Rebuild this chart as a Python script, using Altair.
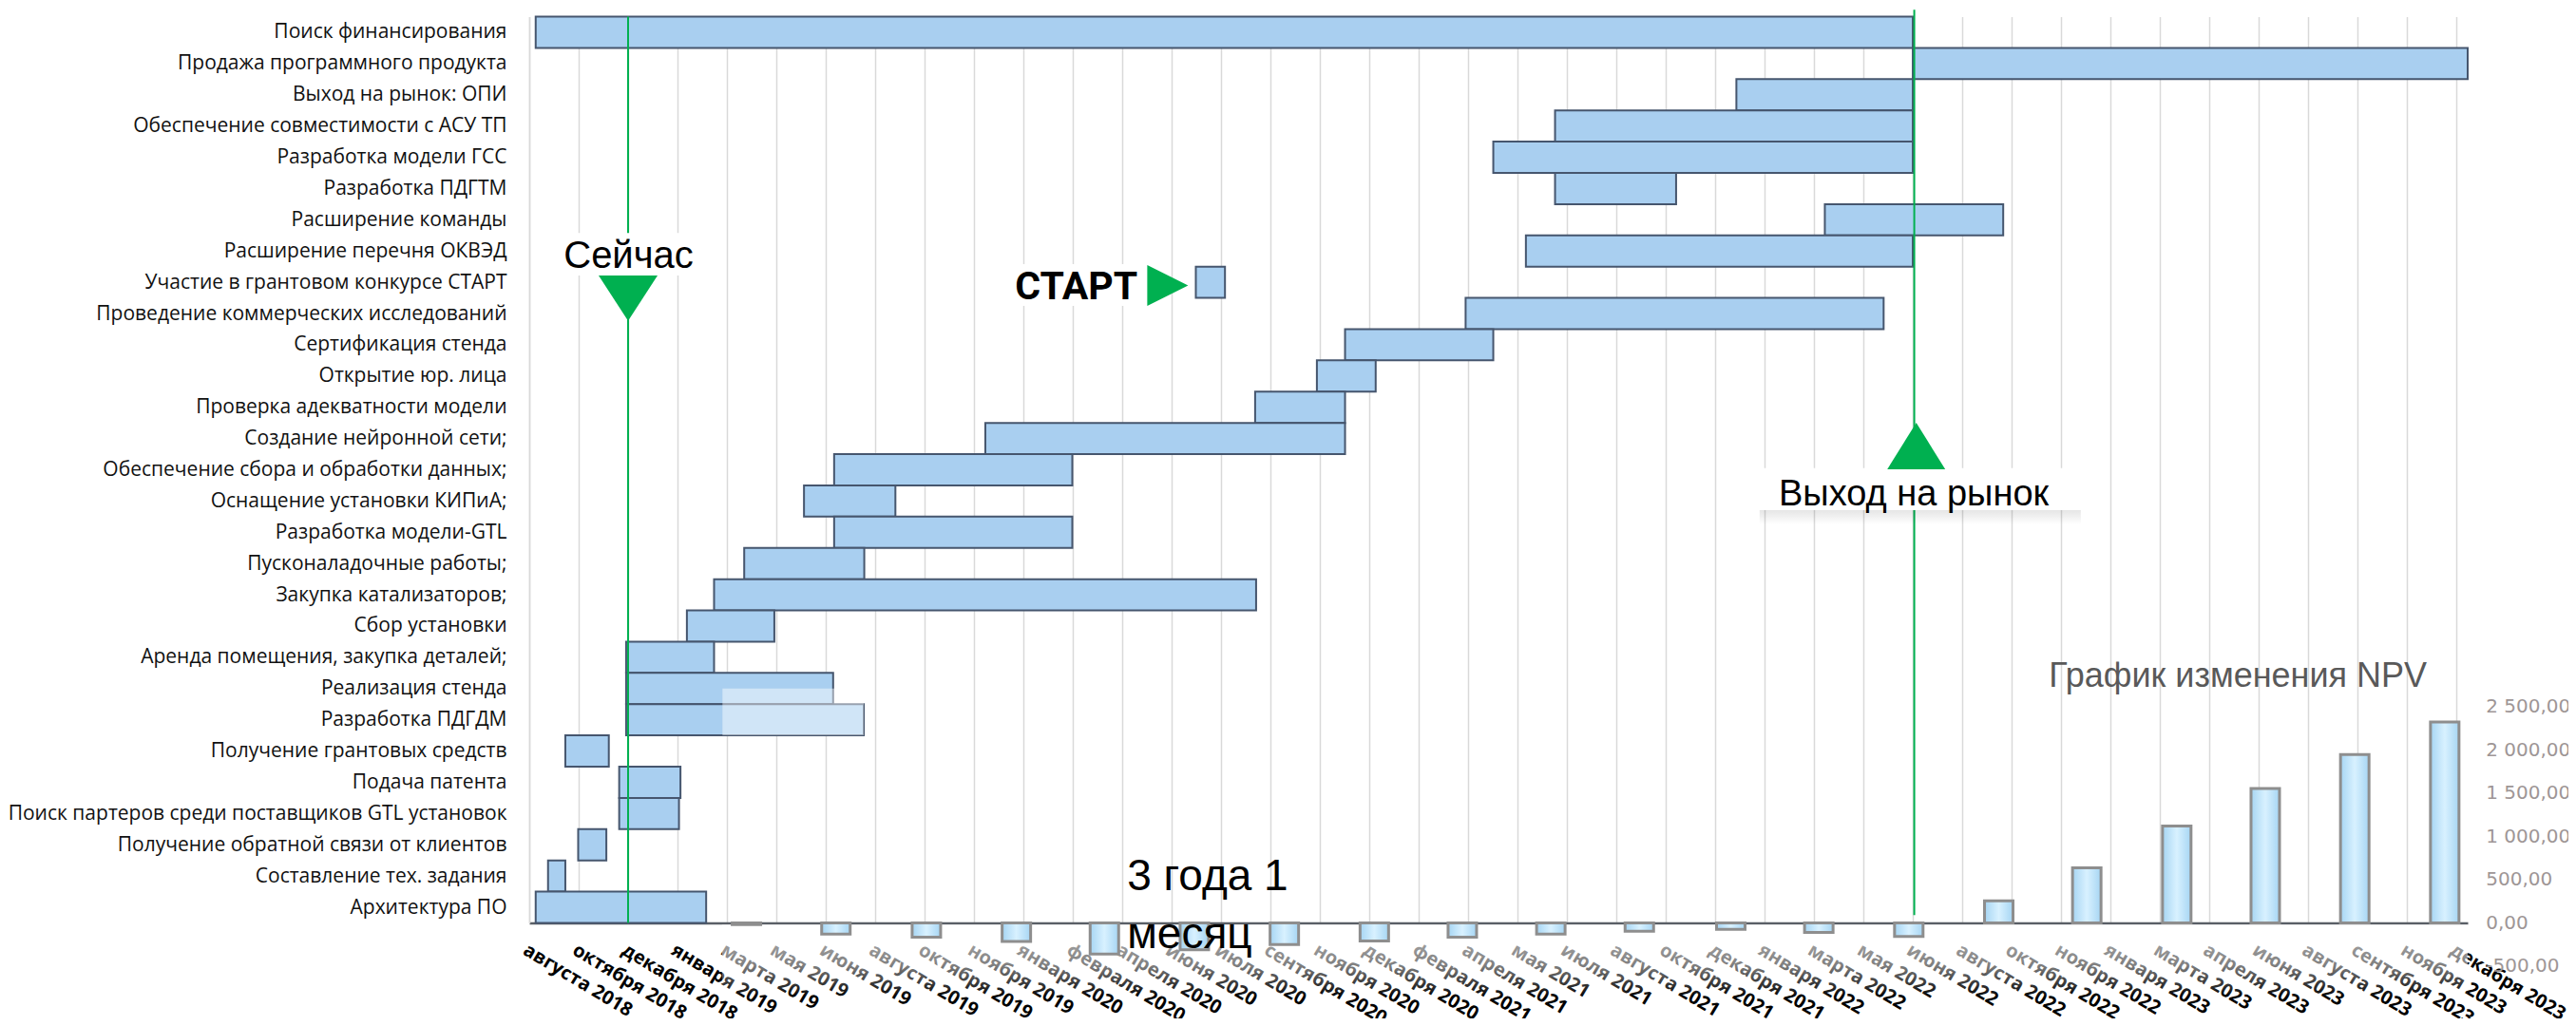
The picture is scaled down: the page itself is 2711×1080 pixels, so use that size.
import json
import altair as alt
import pandas as pd

# ---------------- data ----------------
tasks = [
    "Поиск финансирования ",
    "Продажа программного продукта",
    "Выход на рынок: ОПИ",
    "Обеспечение совместимости с АСУ ТП",
    "Разработка модели ГСС",
    "Разработка ПДГТМ",
    "Расширение команды",
    "Расширение перечня ОКВЭД",
    "Участие в грантовом конкурсе СТАРТ",
    "Проведение коммерческих исследований",
    "Сертификация стенда",
    "Открытие юр. лица",
    "Проверка адекватности модели",
    "Создание нейронной сети;",
    "Обеспечение сбора и обработки данных;",
    "Оснащение установки КИПиА;",
    "Разработка модели-GTL",
    "Пусконаладочные работы;",
    "Закупка катализаторов;",
    "Сбор установки",
    "Аренда помещения, закупка деталей;",
    "Реализация стенда ",
    "Разработка ПДГДМ",
    "Получение грантовых средств",
    "Подача патента",
    "Поиск партеров среди поставщиков GTL установок",
    "Получение обратной связи от клиентов",
    "Составление тех. задания",
    "Архитектура ПО",
]
# start / end in month-tick units of the time axis
starts = [0.13, 28.0, 24.43, 20.76, 19.51, 20.76, 26.22, 20.17, 13.49, 18.95,
          16.51, 15.94, 14.69, 9.23, 6.17, 5.56, 6.17, 4.35, 3.74, 3.19,
          1.96, 1.96, 1.96, 0.73, 1.82, 1.82, 0.99, 0.38, 0.13]
ends = [28.0, 39.23, 28.0, 28.0, 28.0, 23.21, 29.83, 28.0, 14.08, 27.41,
        19.51, 17.13, 16.51, 16.51, 10.99, 7.41, 10.99, 6.78, 14.71, 4.96,
        3.74, 6.15, 6.77, 1.61, 3.06, 3.03, 1.56, 0.73, 3.58]

months = [
    "августа 2018", "октября 2018", "декабря 2018", "января 2019", "марта 2019",
    "мая 2019", "июня 2019", "августа 2019", "октября 2019", "ноября 2019",
    "января 2020", "февраля 2020", "апреля 2020", "июня 2020", "июля 2020",
    "сентября 2020", "ноября 2020", "декабря 2020", "февраля 2021", "апреля 2021",
    "мая 2021", "июля 2021", "августа 2021", "октября 2021", "декабря 2021",
    "января 2022", "марта 2022", "мая 2022", "июня 2022", "августа 2022",
    "октября 2022", "ноября 2022", "января 2023", "марта 2023", "апреля 2023",
    "июня 2023", "августа 2023", "сентября 2023", "ноября 2023", "декабря 2023",
]

npv_pos = [4.32, 6.14, 7.98, 9.81, 11.60, 13.43, 15.26, 17.09, 18.88, 20.68,
           22.48, 24.34, 26.13, 27.96, 29.79, 31.58, 33.41, 35.21, 37.03, 38.86]
npv_val = [-20, -128, -165, -215, -360, -312, -250, -210, -165, -128,
           -95, -73, -110, -158, 255, 638, 1124, 1558, 1952, 2328]
npv_ticks = [2500, 2000, 1500, 1000, 500, 0, -500]
npv_tick_labels = ["2 500,00", "2 000,00", "1 500,00", "1 000,00", "500,00", "0,00", "-500,00"]

npv_title = "График изменения NPV"
now_label = "Сейчас"
start_label = "СТАРТ"
market_label = "Выход на рынок"
duration_lines = ["3 года 1", "месяц"]

# ---------------- tables ----------------
gantt = pd.DataFrame({"row": list(range(len(tasks))), "task": tasks,
                      "start": starts, "end": ends})
gantt["y0"] = gantt["row"] - 0.5
gantt["y1"] = gantt["row"] + 0.5

npv = pd.DataFrame({"pos": npv_pos, "val": npv_val})
npv_axis = pd.DataFrame({"val": npv_ticks, "lab": npv_tick_labels})

GREEN = "#00b050"
XD = [0, 39.23]
YD = [-0.5, 28.5]
xs = alt.Scale(domain=XD, nice=False, zero=False)
ys = alt.Scale(domain=YD, nice=False, zero=False, reverse=True)
ns = alt.Scale(domain=[0, 10500], nice=False, zero=False)

task_expr = json.dumps(tasks, ensure_ascii=False) + "[datum.value]"
month_expr = json.dumps(months, ensure_ascii=False) + "[datum.value]"

bars = alt.Chart(gantt).mark_rect(fill="#a9cff0", stroke="#46566e", strokeWidth=2).encode(
    x=alt.X("start:Q", scale=xs, title=None,
            axis=alt.Axis(values=list(range(len(months))), labelExpr=month_expr,
                          grid=True, gridColor="#d9d9d9", gridWidth=1.5,
                          ticks=False, domainColor="#5a5f66", domainWidth=2.5,
                          labelFont="Open Sans", labelFontWeight="bold",
                          labelFontSize=20, labelColor="#000000",
                          labelAngle=31, labelAlign="left", labelBaseline="top",
                          labelPadding=18, labelOverlap=False, labelLimit=400,
                          labelFlush=False, labelBound=False)),
    x2="end:Q",
    y=alt.Y("y0:Q", scale=ys, title=None,
            axis=alt.Axis(values=list(range(len(tasks))), labelExpr=task_expr,
                          grid=False, ticks=False, domainColor="#d9d9d9",
                          domainWidth=1.5, labelFont="Open Sans", labelFontSize=21,
                          labelColor="#111111", labelPadding=24, labelLimit=700,
                          labelOverlap=False, labelFlush=False, labelBound=False)),
    y2="y1:Q",
)

# light fade over part of the ПДГДМ bar
fade = pd.DataFrame({"x": [3.91], "x2": [6.77], "y": [21.0], "y2": [22.5]})
fade_l = alt.Chart(fade).mark_rect(fill="white", opacity=0.45).encode(
    x=alt.X("x:Q", scale=xs, axis=None), x2="x2:Q",
    y=alt.Y("y:Q", scale=ys, axis=None), y2="y2:Q")

# fade over the lower tick labels (NPV chart background)
lab_fade = pd.DataFrame({"x": [3.9], "x2": [39.23], "y": [28.56], "y2": [30.9]})
lab_fade_l = alt.Chart(lab_fade).mark_rect(
    fill=alt.LinearGradient(gradient="linear", x1=0, x2=0, y1=0, y2=1,
                            stops=[alt.GradientStop(color="rgba(255,255,255,0.72)", offset=0),
                                   alt.GradientStop(color="rgba(255,255,255,0.5)", offset=0.55),
                                   alt.GradientStop(color="rgba(255,255,255,0)", offset=1)])
).encode(x=alt.X("x:Q", scale=xs, axis=None), x2="x2:Q",
         y=alt.Y("y:Q", scale=ys, axis=None), y2="y2:Q")

# green milestone lines
lines = pd.DataFrame({"x": [2.0, 28.03], "y": [-0.5, -0.72], "y2": [28.5, 28.25]})
lines_l = alt.Chart(lines).mark_rule(color=GREEN, strokeWidth=2).encode(
    x=alt.X("x:Q", scale=xs, axis=None),
    y=alt.Y("y:Q", scale=ys, axis=None), y2="y2:Q")

# NPV bars
npv_l = alt.Chart(npv).mark_bar(
    size=30, stroke="#8e8e8e", strokeWidth=3,
    fill=alt.LinearGradient(gradient="linear", x1=0, x2=1, y1=0, y2=0,
                            stops=[alt.GradientStop(color="#a6d5f3", offset=0),
                                   alt.GradientStop(color="#d8f1ff", offset=0.5),
                                   alt.GradientStop(color="#a6d5f3", offset=1)])
).encode(x=alt.X("pos:Q", scale=xs, axis=None),
         y=alt.Y("val:Q", scale=ns, axis=None), y2=alt.datum(0))

npv_ax_l = alt.Chart(npv_axis).mark_text(
    align="left", baseline="middle", font="DejaVu Sans", fontSize=20, color="#9e9696"
).encode(x=alt.X(datum=39.6, scale=xs, axis=None),
         y=alt.Y("val:Q", scale=ns, axis=None), text="lab:N")

npv_title_l = alt.Chart(pd.DataFrame({"t": [npv_title]})).mark_text(
    align="center", baseline="alphabetic", font="Liberation Sans", fontSize=36, color="#595959"
).encode(x=alt.X(datum=34.58, scale=xs, axis=None),
         y=alt.Y(datum=20.94, scale=ys, axis=None), text="t:N")

# white label boxes
boxes = pd.DataFrame({"x": [0.79, 9.79, 24.9], "x2": [3.29, 12.37, 31.4],
                      "y": [6.42, 7.42, 13.95], "y2": [7.78, 8.755, 15.29]})
shadow = pd.DataFrame({"x": [24.9], "x2": [31.4], "y": [15.29], "y2": [15.75]})
shadow_l = alt.Chart(shadow).mark_rect(
    fill=alt.LinearGradient(gradient="linear", x1=0, x2=0, y1=0, y2=1,
                            stops=[alt.GradientStop(color="rgba(0,0,0,0.1)", offset=0),
                                   alt.GradientStop(color="rgba(0,0,0,0)", offset=1)])
).encode(x=alt.X("x:Q", scale=xs, axis=None), x2="x2:Q",
         y=alt.Y("y:Q", scale=ys, axis=None), y2="y2:Q")
boxes_l = alt.Chart(boxes).mark_rect(fill="white").encode(
    x=alt.X("x:Q", scale=xs, axis=None), x2="x2:Q",
    y=alt.Y("y:Q", scale=ys, axis=None), y2="y2:Q")

def label(text, x, y, align="center", weight="normal", size=38, font="Liberation Sans"):
    return alt.Chart(pd.DataFrame({"t": [text]})).mark_text(
        align=align, baseline="alphabetic", font=font, fontSize=size,
        fontWeight=weight, color="#000000"
    ).encode(x=alt.X(datum=x, scale=xs, axis=None),
             y=alt.Y(datum=y, scale=ys, axis=None), text="t:N")

now_t = label(now_label, 2.01, 7.54, size=40)
start_t = label(start_label, 12.31, 8.54, align="right", weight="bold", size=41,
                font="Roboto")
market_t = label(market_label, 28.02, 15.14, size=38)
dur1 = label(duration_lines[0], 12.1, 27.45, align="left", size=46)
dur2 = label(duration_lines[1], 12.1, 29.3, align="left", size=46)

def tri(path, x, y, size):
    return alt.Chart(pd.DataFrame({"a": [0]})).mark_point(
        shape=path, filled=True, fill=GREEN, opacity=1, size=size, strokeWidth=0
    ).encode(x=alt.X(datum=x, scale=xs, axis=None),
             y=alt.Y(datum=y, scale=ys, axis=None))

tri_down = tri("M-1,-0.77L1,-0.77L0,0.77Z", 2.0, 8.51, 3844)
tri_right = tri("M-1,-1L1,0L-1,1Z", 12.92, 8.1, 1849)
tri_up = tri("M0,-0.8L1,0.8L-1,0.8Z", 28.07, 13.24, 3721)

chart = alt.layer(
    bars, fade_l, lines_l, lab_fade_l, npv_l, npv_ax_l, npv_title_l,
    shadow_l, boxes_l, now_t, start_t, market_t, dur1, dur2,
    tri_down, tri_right, tri_up,
).resolve_scale(x="independent", y="independent").properties(
    width=2040, height=954,
    autosize=alt.AutoSizeParams(type="none"),
    padding={"left": 549, "top": 9.5, "right": 106, "bottom": 100},
    background="white",
).configure_view(stroke=None)

chart.save("out.html", embed_options={"renderer": "svg", "actions": False})
